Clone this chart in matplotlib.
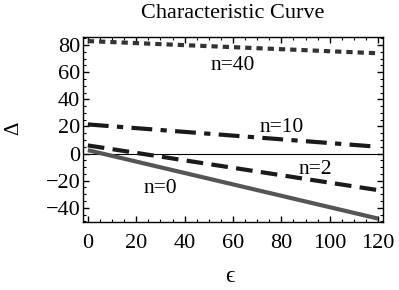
import matplotlib
matplotlib.use("Agg")
import matplotlib.pyplot as plt
import numpy as np
from matplotlib.ticker import MultipleLocator

plt.rcParams['font.family'] = ['Liberation Serif', 'DejaVu Serif']

eps = [0, 120]
n0 = [2.5, -48]
n2 = [6, -27]
n10 = [21.5, 5]
n40 = [83, 74]

labels = ['n=40', 'n=10', 'n=2', 'n=0']
label_x = [60, 80, 94, 30]
label_y = [65, 19, -12, -26]

W, H = 399, 290
fig = plt.figure(figsize=(W/100, H/100), dpi=100)
ax = fig.add_axes([83/W, 1-222/H, 300/W, 185/H])

ax.axhline(0, color='black', lw=0.8)
ax.plot(eps, n0, color='#555555', lw=3, solid_capstyle='butt')
ax.plot(eps, n2, color='#1a1a1a', lw=3, dashes=(4, 2))
ax.plot(eps, n10, color='#1a1a1a', lw=3, dashes=(5, 2, 1.5, 2))
ax.plot(eps, n40, color='#333333', lw=3, dashes=(1.5, 1.2))

for t, x, y in zip(labels, label_x, label_y):
    ax.text(x, y, t, fontsize=15.5, ha='center', va='center')

ax.set_xlim(-2, 122)
ax.set_ylim(-50.5, 86)
ax.xaxis.set_major_locator(MultipleLocator(20))
ax.xaxis.set_minor_locator(MultipleLocator(5))
ax.yaxis.set_major_locator(MultipleLocator(20))
ax.yaxis.set_minor_locator(MultipleLocator(5))
ax.tick_params(which='both', direction='in', top=True, right=True, labelsize=16)
ax.tick_params(which='major', length=4, width=1)
ax.tick_params(which='minor', length=2, width=0.8)
ax.tick_params(axis='x', pad=9)
ax.tick_params(axis='y', pad=2)
for s in ax.spines.values():
    s.set_linewidth(1)

fig.text(233/W, 1-14/H, 'Characteristic Curve', fontsize=16, ha='center', va='center')
fig.text(230/W, 1-276/H, '\u03f5', fontsize=17, ha='center', va='center')
fig.text(14/W, 1-128/H, '\u0394', fontsize=15, ha='center', va='center', rotation=90)

fig.savefig('out.png', dpi=100)
